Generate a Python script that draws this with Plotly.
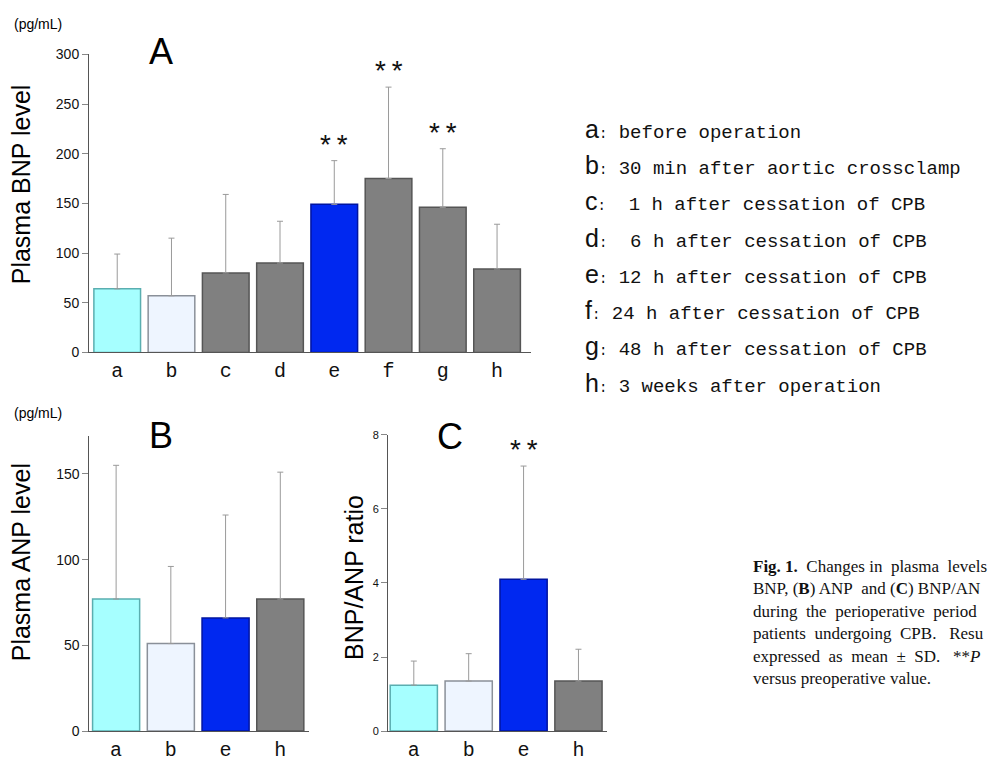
import plotly.graph_objects as go

# ---------------- data ----------------
cats_A = ['a', 'b', 'c', 'd', 'e', 'f', 'g', 'h']
bnp_mean = [64, 57, 80, 90, 149, 175, 146, 84]
bnp_sd = [35, 58, 79, 42, 44, 92, 59, 45]
bnp_sig = ['e', 'f', 'g']

cats_B = ['a', 'b', 'e', 'h']
anp_mean = [77, 51, 66, 77]
anp_sd = [78, 45, 60, 74]

cats_C = ['a', 'b', 'e', 'h']
ratio_mean = [1.24, 1.35, 4.1, 1.35]
ratio_sd = [0.65, 0.74, 3.06, 0.86]
ratio_sig = ['e']

legend_keys = ['a', 'b', 'c', 'd', 'e', 'f', 'g', 'h']
legend_texts = ['before operation', '30 min after aortic crossclamp',
                ' 1 h after cessation of CPB', ' 6 h after cessation of CPB',
                '12 h after cessation of CPB', '24 h after cessation of CPB',
                '48 h after cessation of CPB', '3 weeks after operation']

A_ticks = [0, 50, 100, 150, 200, 250, 300]
B_ticks = [0, 50, 100, 150]
C_ticks = [0, 2, 4, 6, 8]

# ---------------- styles ----------------
W, H = 994, 773
fill = {'a': '#a6ffff', 'b': '#eef5ff', 'e': '#0028f0'}
edge = {'a': '#5aaeb0', 'b': '#8a9099', 'e': '#0014a0'}
GRAY, GRAY_EDGE = '#808080', '#555555'
SANS = 'Liberation Sans, Arial, sans-serif'
MONO = 'Liberation Mono, Courier New, monospace'
SERIF = 'Liberation Serif, Times New Roman, serif'


def px(x):
    return x / W


def py(y):
    return 1 - y / H


def bar_trace(cats, mean, sd, xa, ya):
    return go.Bar(
        x=cats, y=mean, xaxis=xa, yaxis=ya, width=0.86,
        marker=dict(color=[fill.get(c, GRAY) for c in cats],
                    line=dict(color=[edge.get(c, GRAY_EDGE) for c in cats], width=1.5)),
        error_y=dict(type='data', array=sd, arrayminus=[0] * len(sd), symmetric=False,
                     color='#9a9a9a', thickness=1, width=3),
        showlegend=False, hoverinfo='skip')


fig = go.Figure()
fig.add_trace(bar_trace(cats_A, bnp_mean, bnp_sd, 'x', 'y'))
fig.add_trace(bar_trace(cats_B, anp_mean, anp_sd, 'x2', 'y2'))
fig.add_trace(bar_trace(cats_C, ratio_mean, ratio_sd, 'x3', 'y3'))

xcommon = dict(showline=True, linecolor='#555', linewidth=1, ticks='', showgrid=False,
               zeroline=False, tickfont=dict(family=MONO, size=20, color='#111'), fixedrange=True)
ycommon = dict(showline=True, linecolor='#555', linewidth=1, ticks='outside', ticklen=6,
               tickcolor='#888', showgrid=False, zeroline=False,
               tickfont=dict(family=SANS, size=14, color='#111'), fixedrange=True)

fig.update_layout(
    width=W, height=H, margin=dict(l=0, r=0, t=0, b=0),
    paper_bgcolor='white', plot_bgcolor='white', bargap=0.14,
    xaxis=dict(xcommon, domain=[px(89), px(530.7)], range=[-0.52, 7.62], anchor='y'),
    yaxis=dict(ycommon, domain=[py(351.7), py(47.3)], range=[0, 300], tickvals=A_ticks, anchor='x'),
    xaxis2=dict(xcommon, domain=[px(89.3), px(309.3)], range=[-0.49, 3.53], anchor='y2'),
    yaxis2=dict(ycommon, domain=[py(738.3), py(436.7)], range=[0, 172.3], tickvals=B_ticks, anchor='x2'),
    xaxis3=dict(xcommon, domain=[px(388), px(607)], range=[-0.47, 3.52], anchor='y3'),
    yaxis3=dict(ycommon, domain=[py(738.3), py(436)], range=[0, 8], tickvals=C_ticks, anchor='x3',
                tickfont=dict(family=SANS, size=11, color='#111')),
)

ann = []


def text_at(x, y, t, size, family=SANS, angle=0, xanchor='center', yanchor='middle', color='#000'):
    ann.append(dict(x=px(x), y=py(y), xref='paper', yref='paper', text=t, showarrow=False,
                    textangle=angle, xanchor=xanchor, yanchor=yanchor,
                    font=dict(family=family, size=size, color=color)))


# axis titles, units, panel letters
text_at(21, 180, 'Plasma BNP level', 25, angle=-90)
text_at(21, 566, 'Plasma ANP level', 25, angle=-90)
text_at(354, 582, 'BNP/ANP ratio', 25, angle=-90)
text_at(38, 16, '(pg/mL)', 14)
text_at(38, 414, '(pg/mL)', 14)
text_at(161, 44, 'A', 36)
text_at(161, 437, 'B', 36)
text_at(450, 438, 'C', 36)

# significance stars
for cats, mean, sd, sig, xr, yr in [(cats_A, bnp_mean, bnp_sd, bnp_sig, 'x', 'y'),
                                    (cats_C, ratio_mean, ratio_sd, ratio_sig, 'x3', 'y3')]:
    for c, m, s in zip(cats, mean, sd):
        if c in sig:
            ann.append(dict(x=c, y=m + s, xref=xr, yref=yr, text='**', showarrow=False,
                            xanchor='center', yanchor='bottom', yshift=-4,
                            font=dict(family=MONO, size=28, color='#111')))

# legend of time points
for i, (k, t) in enumerate(zip(legend_keys, legend_texts)):
    y = 124 + i * 37
    t_html = t.replace(' ', '&nbsp;')
    text_at(583, y,
            f'<span style="font-family:{SANS};font-size:25px">{k}</span>'
            f'<span style="font-size:14px">:</span> {t_html}',
            19, family=MONO, xanchor='left', color='#111')

# caption
sp2 = '&nbsp;&nbsp;'
caption = [f'<b>Fig. 1.</b>{sp2}Changes&nbsp;in{sp2}plasma{sp2}levels',
           f'BNP, (<b>B</b>) ANP{sp2}and (<b>C</b>) BNP/AN',
           f'during{sp2}the{sp2}perioperative{sp2}period',
           f'patients{sp2}undergoing{sp2}CPB.{sp2}&nbsp;Resu',
           f'expressed{sp2}as{sp2}mean{sp2}±{sp2}SD.{sp2}&nbsp;**<i>P</i>',
           'versus preoperative value.']
for i, line in enumerate(caption):
    text_at(751, 570 + i * 23, line, 17, family=SERIF, xanchor='left', color='#111')

fig.update_layout(annotations=ann)
fig.write_html('out.html', config={'displayModeBar': False},
               post_script="document.body.style.margin='0px';")
